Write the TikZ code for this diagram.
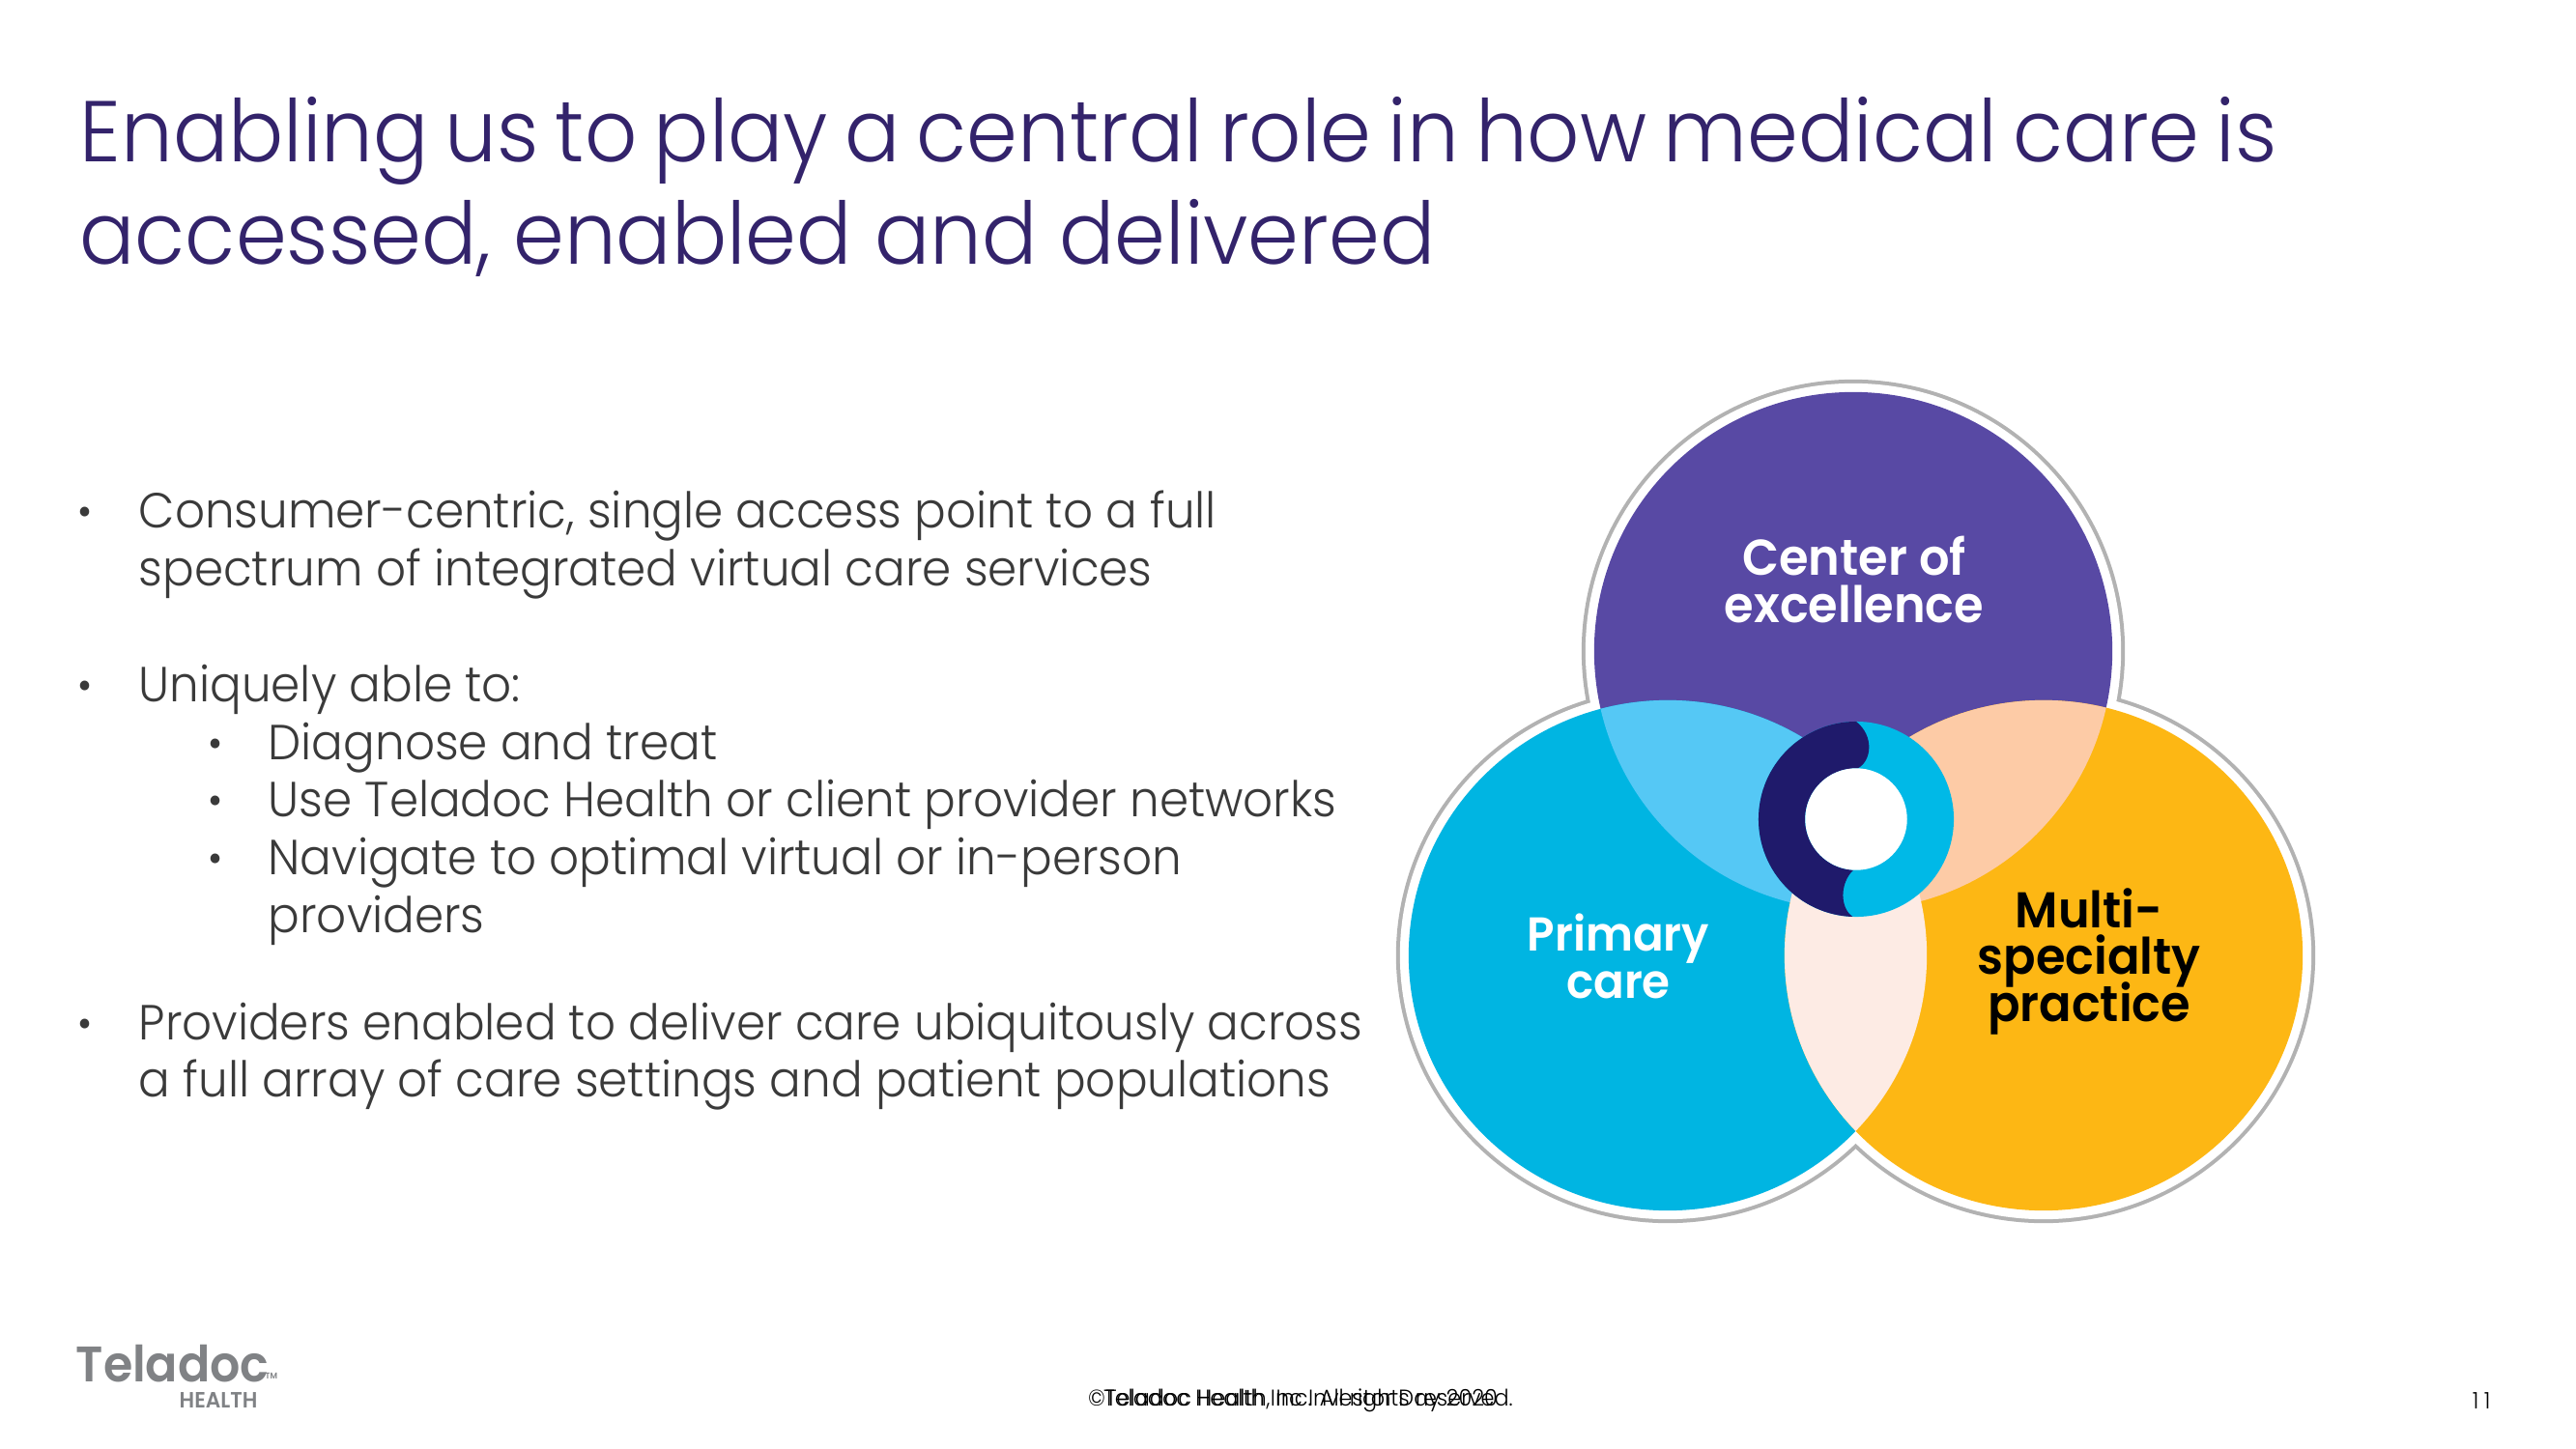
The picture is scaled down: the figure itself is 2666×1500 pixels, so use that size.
\documentclass[tikz,border=0pt]{standalone}
\usepackage{fontspec}
\usepackage{tikz}
\setmainfont{Poppins}[UprightFont=* Light,BoldFont=* SemiBold,FakeStretch=0.95]
\newcommand{\dotmark}{\scalebox{0.85}{•}}
\definecolor{titlePurple}{HTML}{33236B}
\definecolor{bodyGrey}{HTML}{3A3A3A}
\definecolor{coePurple}{HTML}{5849A4}
\definecolor{pcBlue}{HTML}{00B5E2}
\definecolor{mspYellow}{HTML}{FDB714}
\definecolor{lensBlue}{HTML}{55C8F5}
\definecolor{lensPeach}{HTML}{FDCBA6}
\definecolor{lensPale}{HTML}{FDEBE4}
\definecolor{ringNavy}{HTML}{1F1A6B}
\definecolor{ringBlue}{HTML}{00B9E7}
\definecolor{logoGrey}{HTML}{808285}

\begin{document}
\begin{tikzpicture}[x=0.01cm,y=-0.01cm]
    \tikzstyle{title}=[anchor=north west,inner sep=0pt,align=left,text=titlePurple,font=\fontsize{25.4}{30}\selectfont]
    \tikzstyle{body}=[anchor=north west,inner sep=0pt,align=left,text=bodyGrey,font=\fontsize{14.5}{17}\selectfont]
    \tikzstyle{label}=[inner sep=0pt,align=center,font=\fontsize{14.8}{13.8}\selectfont\bfseries,execute at begin node={\lineskiplimit=-10pt}]
    \tikzstyle{foot}=[inner sep=0pt,font=\fontsize{6.7}{8}\selectfont,text=black]
    \useasboundingbox (0,0) rectangle (2666,1500);
    \coordinate (top) at (1918,674);
    \coordinate (left) at (1726,989);
    \coordinate (right) at (2115,989);
    \coordinate (hub) at (1921,848);
    % outline of the three circles
    \fill[black!30] (top) circle[radius=2.81cm];
    \foreach \c in {left,right} \fill[black!30] (\c) circle[x radius=2.81cm,y radius=2.77cm];
    \fill[white] (top) circle[radius=2.77cm];
    \foreach \c in {left,right} \fill[white] (\c) circle[x radius=2.77cm,y radius=2.73cm];
    \fill[coePurple] (top) circle[radius=2.68cm];
    \fill[pcBlue] (left) circle[x radius=2.68cm,y radius=2.64cm];
    \fill[mspYellow] (right) circle[x radius=2.68cm,y radius=2.64cm];
    % overlaps
    \begin{scope}
      \clip (top) circle[radius=2.68cm];
      \fill[lensBlue] (left) circle[x radius=2.68cm,y radius=2.64cm];
      \fill[lensPeach] (right) circle[x radius=2.68cm,y radius=2.64cm];
    \end{scope}
    \begin{scope}
      \clip (left) circle[x radius=2.68cm,y radius=2.64cm];
      \fill[lensPale] (right) circle[x radius=2.68cm,y radius=2.64cm];
    \end{scope}
    % ring in the middle
    \fill[ringBlue] (hub) circle[radius=1.01cm];
    \begin{scope}[shift={(hub)},x=1cm,y=1cm]
      \fill[ringNavy] (0,1.01) arc[start angle=90,end angle=268,radius=1.01cm]
        .. controls (-0.17,-0.92) and (-0.17,-0.66) .. (-0.03,-0.527)
        arc[start angle=267,end angle=88,radius=0.527cm]
        .. controls (0.16,0.60) and (0.19,0.86) .. (0,1.01) -- cycle;
    \end{scope}
    \fill[white] (hub) circle[radius=0.527cm];

    \node[title] (heading) at (82,100) {{\spaceskip=4.9pt Enabling us to play a central role in how medical care is}\\[0pt]accessed, enabled and delivered};

    \node[body] (dotA) at (80,524) {\dotmark};
    \node[body] (textA) at (143,507) {Consumer-centric, single access point to a full\\spectrum of integrated virtual care services};
    \node[body] (dotB) at (80,704) {\dotmark};
    \node[body] (textB) at (143,687) {Uniquely able to:};
    \node[body] (dotC) at (215,764) {\dotmark\\\dotmark\\\dotmark};
    \node[body] (textC) at (277,747) {Diagnose and treat\\Use Teladoc Health or client provider networks\\Navigate to optimal virtual or in-person\\providers};
    \node[body] (dotD) at (80,1054) {\dotmark};
    \node[body] (textD) at (143,1037) {Providers enabled to deliver care ubiquitously across\\a full array of care settings and patient populations};

    \node[label,text=white] (coe) at (1919,600) {Center of\\excellence};
    \node[label,text=white,font=\fontsize{14}{13.8}\selectfont\bfseries] (pc) at (1675,990) {Primary\\care};
    \node[label,text=black] (msp) at (2162,995) {Multi-\\specialty\\practice};

    \node[foot] (copy) at (1346,1450) {©Teladoc Health, Inc. All rights reserved.};
    \node[foot] (event) at (1346,1450) {Teladoc Health Inc Investor Day 2020};
    \node[foot,anchor=east] (page) at (2578,1450) {1\hspace{1.5pt}1};

    \node[anchor=west,inner sep=0pt,text=logoGrey,font=\fontsize{14.7}{14}\selectfont\bfseries] (logo) at (78,1412) {Teladoc};
    \node[anchor=west,inner sep=0pt,text=logoGrey,font=\fontsize{2.5}{4}\selectfont\bfseries] (tm) at (274,1424) {TM};
    \node[anchor=west,inner sep=0pt,text=logoGrey,font=\fontsize{6.5}{7}\selectfont\bfseries] (health) at (185,1449) {HEALTH};
\end{tikzpicture}
\end{document}
